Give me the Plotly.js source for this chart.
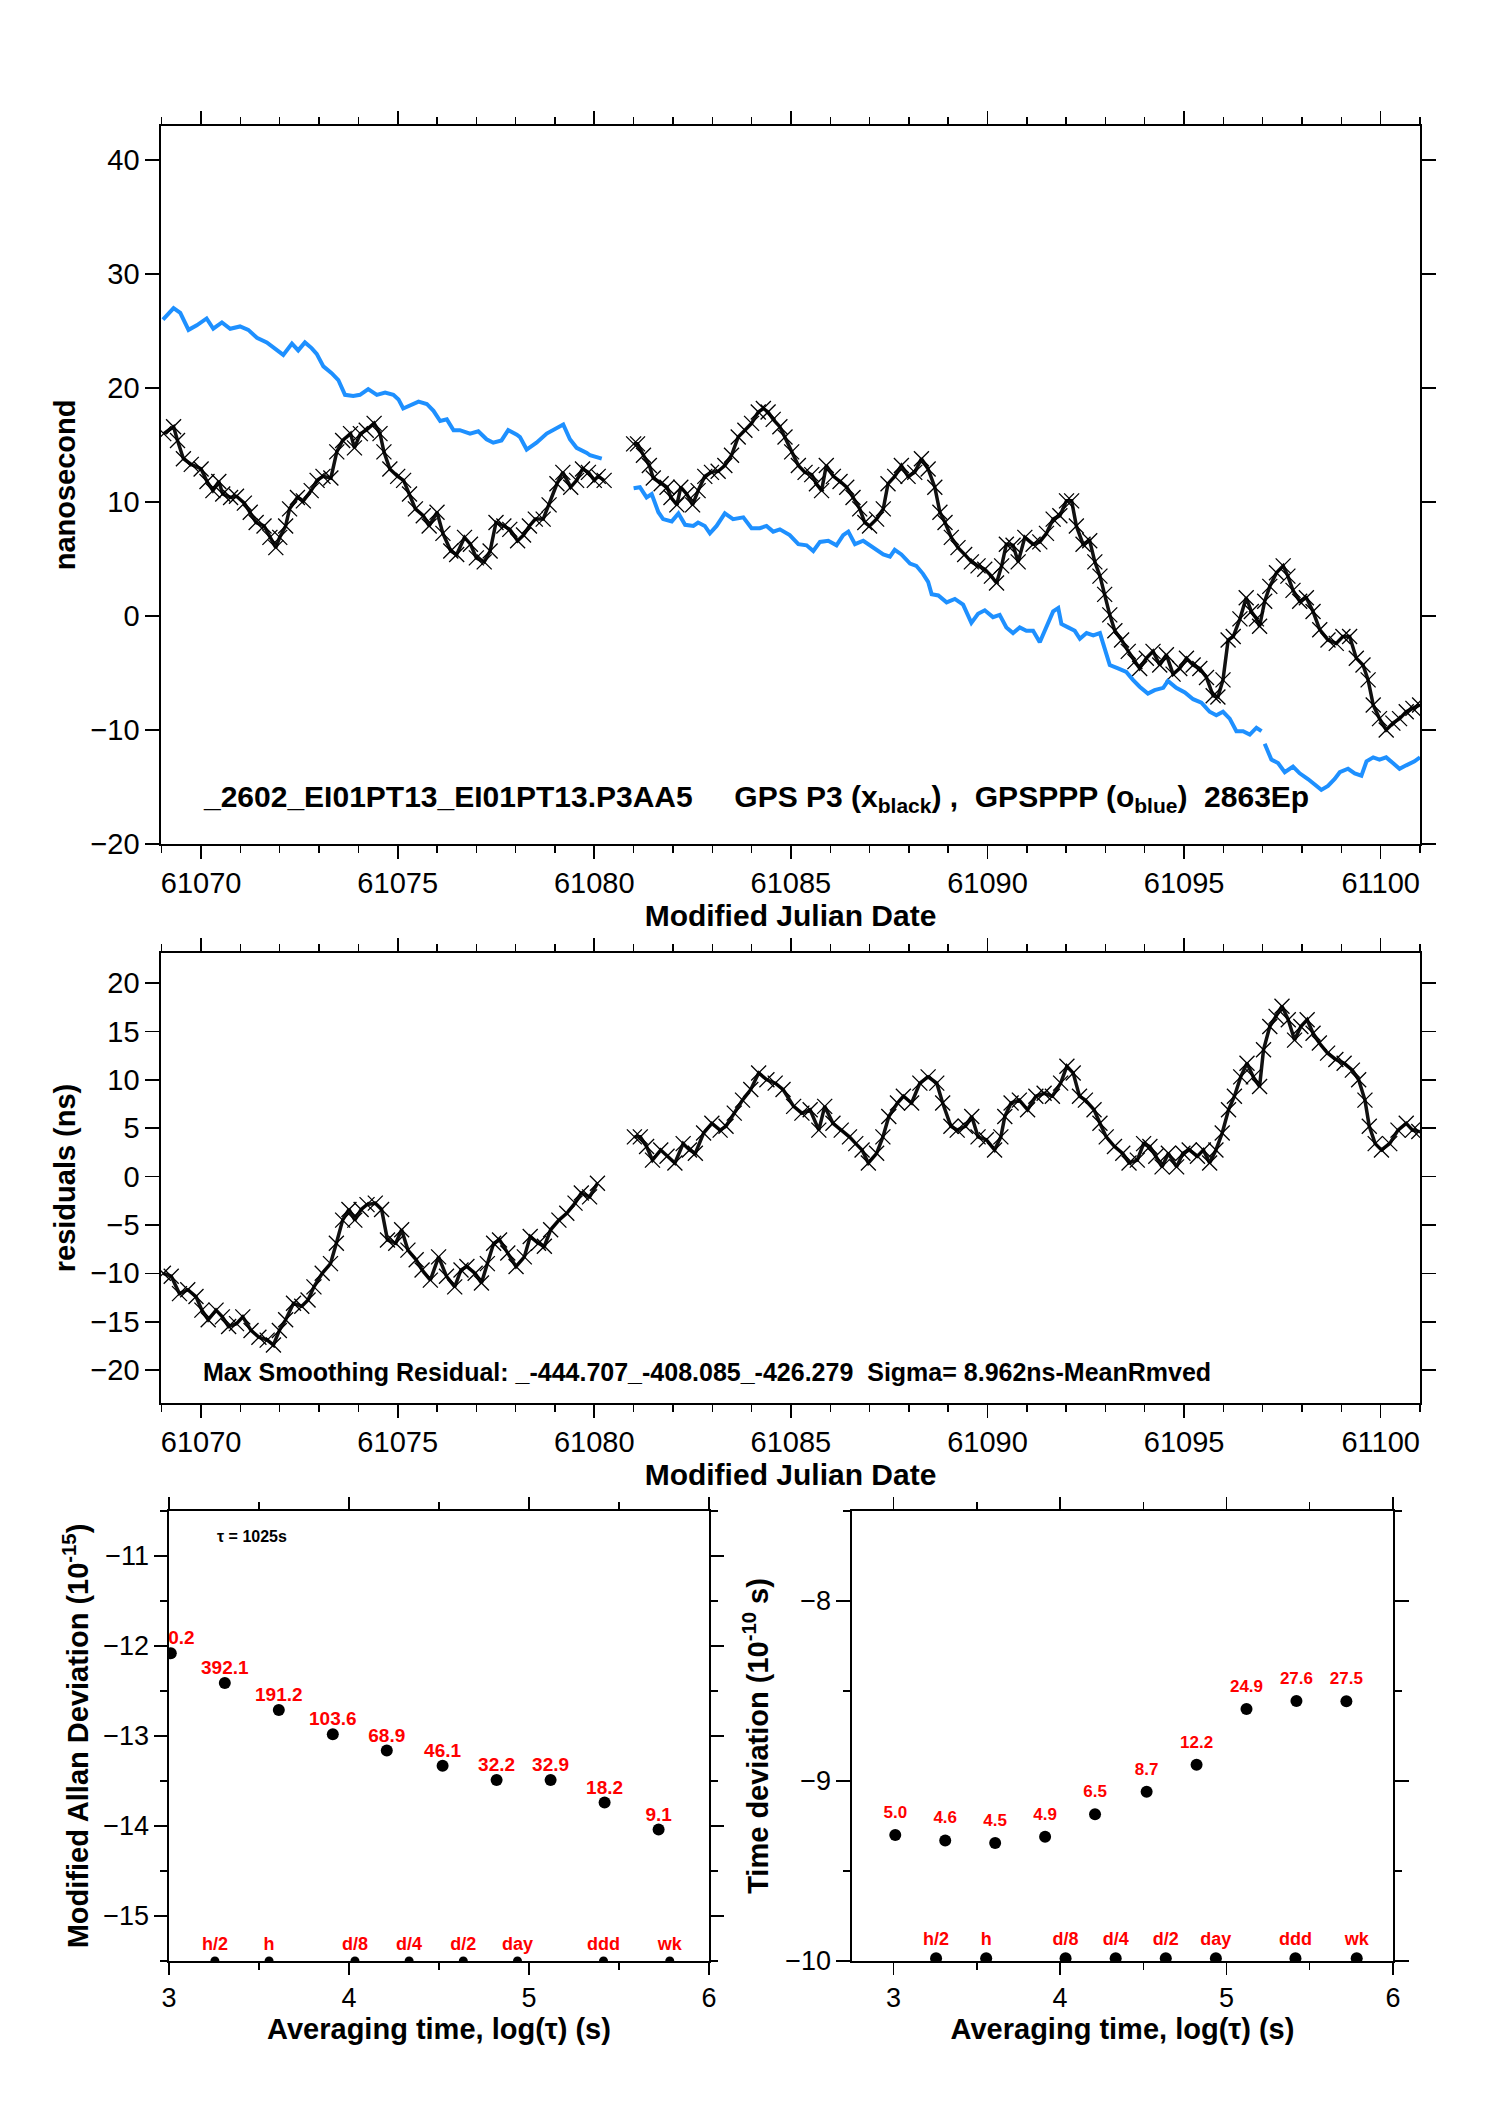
<!DOCTYPE html>
<html><head><meta charset="utf-8">
<script src="https://cdn.plot.ly/plotly-3.0.1.min.js"></script>
<style>html,body{margin:0;padding:0;background:#fff}</style>
</head><body><div id="chart" style="width:1488px;height:2105px"></div>
<script>
// ---------- Top panel: GPS P3 (black x) ----------
const blackMjd = [61069.05,61069.3,61069.4,61069.55,61069.75,61070.0,61070.15,61070.3,61070.45,61070.55,61070.75,61070.9,61071.1,61071.25,61071.4,61071.6,61071.75,61071.9,61072.0,61072.15,61072.25,61072.45,61072.6,61072.8,61072.95,61073.1,61073.3,61073.45,61073.6,61073.8,61073.9,61074.05,61074.2,61074.4,61074.55,61074.65,61074.8,61075.0,61075.15,61075.3,61075.45,61075.65,61075.8,61076.0,61076.15,61076.35,61076.5,61076.7,61076.85,61077.0,61077.2,61077.35,61077.5,61077.7,61077.85,61078.05,61078.2,61078.35,61078.5,61078.7,61078.85,61079.05,61079.2,61079.4,61079.55,61079.7,61079.85,61080.0,61080.1,61080.25,null,
61081.0,61081.1,61081.25,61081.4,61081.5,61081.7,61081.85,61081.95,61082.1,61082.2,61082.35,61082.5,61082.64,61082.81,61082.98,61083.15,61083.32,61083.49,61083.66,61083.83,61084.0,61084.17,61084.3,61084.42,61084.55,61084.72,61084.85,61085.02,61085.19,61085.36,61085.53,61085.65,61085.78,61085.9,61086.08,61086.25,61086.42,61086.58,61086.75,61086.88,61087.0,61087.18,61087.35,61087.47,61087.64,61087.81,61087.98,61088.15,61088.32,61088.49,61088.66,61088.79,61088.92,61089.08,61089.25,61089.42,61089.59,61089.76,61089.93,61090.1,61090.23,61090.36,61090.48,61090.65,61090.78,61090.95,61091.16,61091.33,61091.5,61091.67,61091.84,61092.01,61092.14,61092.26,61092.43,61092.6,61092.73,61092.86,61092.98,61093.11,61093.24,61093.41,61093.58,61093.75,61093.87,61094.04,61094.21,61094.38,61094.55,61094.72,61094.89,61095.06,61095.23,61095.4,61095.57,61095.74,61095.86,61095.99,61096.12,61096.25,61096.42,61096.58,61096.71,61096.84,61096.92,61097.05,61097.18,61097.35,61097.52,61097.64,61097.77,61097.94,61098.11,61098.28,61098.45,61098.66,61098.87,61099.04,61099.21,61099.38,61099.55,61099.68,61099.81,61099.97,61100.14,61100.31,61100.48,61100.65,61100.82,61100.99];
const blackNs = [16.0,16.6,15.4,13.8,13.3,12.9,11.8,11.0,11.8,10.7,10.4,10.5,9.9,9.1,8.2,7.9,6.9,6.0,6.9,7.9,9.4,10.4,10.1,11.0,11.9,12.25,12.1,14.4,15.4,16.0,14.75,16.0,16.3,16.9,16.0,14.4,12.9,12.25,11.9,10.7,9.4,8.8,7.9,9.1,7.25,5.7,5.4,6.9,6.3,5.1,4.75,5.7,8.2,7.9,7.6,6.6,7.1,7.9,8.5,8.5,9.75,11.6,12.6,11.3,11.9,12.9,12.6,11.9,12.25,11.9,null,
15.1,15.1,14.1,13.2,12.1,11.6,11.3,10.4,9.75,11.3,10.7,9.75,11.0,12.25,12.6,12.7,13.2,14.1,15.7,16.3,16.9,17.9,18.2,17.9,17.25,16.6,15.7,14.4,13.2,12.6,12.4,11.6,11.0,13.2,12.25,11.8,11.3,10.4,9.4,8.2,7.9,8.5,9.4,11.6,12.25,13.2,12.25,12.6,13.8,12.9,11.3,9.1,8.2,6.9,6.0,5.4,4.75,4.4,4.1,3.5,2.9,4.4,6.3,6.2,4.75,6.9,6.3,6.5,7.25,8.5,8.8,10.1,10.1,7.9,6.3,6.6,4.75,3.5,1.9,0.1,-1.3,-2.1,-3.1,-4.0,-4.6,-3.7,-3.1,-4.3,-3.4,-5.1,-4.6,-3.7,-4.3,-4.6,-5.4,-7.0,-7.1,-5.6,-2.1,-1.8,-0.25,1.6,0.4,-0.25,-0.9,1.3,2.6,3.8,4.4,3.5,2.25,1.3,1.6,0.4,-1.2,-2.1,-2.4,-1.8,-1.8,-3.7,-4.3,-5.6,-7.8,-9.0,-10.0,-9.4,-9.0,-8.4,-8.1,-7.8];

// ---------- Top panel: GPSPPP (blue) ----------
const blueMjd = [61069.03,61069.3,61069.47,61069.68,61069.89,61070.14,61070.31,61070.53,61070.74,61070.99,61071.2,61071.42,61071.67,61071.92,61072.09,61072.31,61072.47,61072.64,61072.81,61072.94,61073.11,61073.32,61073.49,61073.66,61073.87,61074.04,61074.25,61074.47,61074.68,61074.89,61075.02,61075.14,61075.31,61075.53,61075.74,61075.91,61076.08,61076.25,61076.42,61076.58,61076.84,61077.05,61077.26,61077.43,61077.64,61077.81,61078.03,61078.11,61078.28,61078.53,61078.79,61079.04,61079.21,61079.38,61079.55,61079.81,61079.89,61080.19,null,
61081.0,61081.16,61081.33,61081.46,61081.63,61081.75,61081.97,61082.14,61082.31,61082.52,61082.64,61082.81,61082.94,61083.11,61083.32,61083.53,61083.79,61084.0,61084.21,61084.38,61084.55,61084.72,61084.97,61085.19,61085.4,61085.57,61085.74,61085.95,61086.16,61086.33,61086.46,61086.63,61086.84,61087.01,61087.18,61087.35,61087.52,61087.64,61087.81,61088.03,61088.19,61088.36,61088.49,61088.58,61088.75,61088.96,61089.17,61089.38,61089.59,61089.76,61089.93,61090.14,61090.31,61090.48,61090.65,61090.82,61090.99,61091.16,61091.33,61091.5,61091.67,61091.8,61091.88,61092.05,61092.22,61092.35,61092.52,61092.69,61092.86,61092.94,61093.11,61093.32,61093.53,61093.7,61093.87,61094.08,61094.25,61094.47,61094.59,61094.8,61095.02,61095.23,61095.44,61095.65,61095.82,61095.99,61096.16,61096.33,61096.5,61096.67,61096.84,61096.97,null,
61097.05,61097.22,61097.39,61097.56,61097.77,61097.94,61098.15,61098.32,61098.49,61098.66,61098.83,61098.96,61099.17,61099.34,61099.51,61099.64,61099.81,61099.97,61100.14,61100.31,61100.48,61100.65,61100.86,61101.0];
const blueNs = [26.0,27.0,26.6,25.1,25.5,26.1,25.2,25.75,25.2,25.4,25.1,24.4,24.0,23.3,22.9,23.9,23.3,24.0,23.5,23.0,21.9,21.3,20.7,19.4,19.3,19.4,19.9,19.4,19.6,19.4,19.0,18.2,18.5,18.8,18.6,18.0,17.1,17.25,16.3,16.3,16.0,16.2,15.5,15.2,15.4,16.3,15.9,15.7,14.6,15.2,16.0,16.5,16.8,15.5,14.75,14.3,14.1,13.8,null,
11.2,11.3,10.4,10.7,9.1,8.5,8.3,9.0,8.0,7.9,8.2,7.9,7.25,7.9,9.0,8.5,8.65,7.7,7.7,7.9,7.4,7.6,7.1,6.3,6.2,5.7,6.5,6.6,6.2,7.1,7.4,6.3,6.6,6.2,5.8,5.4,5.2,5.8,5.4,4.6,4.4,3.7,3.0,1.9,1.8,1.2,1.5,1.0,-0.6,0.2,0.5,-0.1,0.1,-1.0,-1.5,-1.0,-1.3,-1.3,-2.3,-1.0,0.4,0.7,-0.7,-1.0,-1.3,-2.0,-1.5,-1.7,-1.5,-2.4,-4.3,-4.6,-4.9,-5.6,-6.2,-6.8,-6.5,-6.3,-5.7,-6.3,-6.7,-7.3,-7.6,-8.4,-8.7,-8.4,-9.0,-10.1,-10.1,-10.4,-9.8,-10.1,null,
-11.2,-12.6,-12.9,-13.7,-13.2,-13.8,-14.3,-14.8,-15.25,-14.9,-14.3,-13.7,-13.4,-13.8,-14.0,-12.75,-12.4,-12.6,-12.4,-12.9,-13.4,-13.1,-12.75,-12.4];

// ---------- Middle panel: residuals ----------
const residMjd = [61069.04,61069.24,61069.45,61069.66,61069.87,61070.02,61070.18,61070.38,61070.54,61070.7,61070.9,61071.06,61071.27,61071.47,61071.68,61071.84,61071.99,61072.15,61072.35,61072.56,61072.72,61072.87,61073.08,61073.29,61073.44,61073.6,61073.76,61073.91,61074.07,61074.22,61074.43,61074.59,61074.74,61074.95,61075.1,61075.26,61075.47,61075.62,61075.83,61076.04,61076.24,61076.45,61076.61,61076.76,61076.97,61077.13,61077.28,61077.44,61077.59,61077.8,61078.01,61078.22,61078.37,61078.58,61078.73,61078.89,61079.1,61079.3,61079.51,61079.67,61079.88,61080.08,null,
61081.02,61081.17,61081.33,61081.48,61081.69,61081.85,61082.05,61082.26,61082.42,61082.57,61082.78,61082.99,61083.2,61083.35,61083.56,61083.77,61083.98,61084.18,61084.39,61084.6,61084.8,61085.07,61085.28,61085.49,61085.71,61085.86,61086.07,61086.28,61086.49,61086.65,61086.81,61086.97,61087.18,61087.34,61087.49,61087.71,61087.86,61088.07,61088.28,61088.49,61088.71,61088.86,61089.07,61089.23,61089.44,61089.6,61089.76,61089.97,61090.18,61090.34,61090.44,61090.6,61090.81,61091.02,61091.23,61091.44,61091.65,61091.86,61092.02,61092.18,61092.34,61092.49,61092.71,61092.86,61093.02,61093.23,61093.44,61093.6,61093.81,61093.97,61094.13,61094.28,61094.44,61094.6,61094.81,61094.97,61095.13,61095.34,61095.49,61095.65,61095.81,61095.97,61096.13,61096.28,61096.44,61096.6,61096.76,61096.92,61097.02,61097.18,61097.34,61097.49,61097.65,61097.81,61097.97,61098.13,61098.28,61098.44,61098.65,61098.86,61099.07,61099.28,61099.44,61099.6,61099.71,61099.86,61100.02,61100.23,61100.44,61100.65,61100.81,61100.97];
const residNs = [-10.0,-10.3,-12.1,-11.7,-12.4,-13.8,-14.8,-13.8,-14.5,-15.5,-15.2,-14.5,-15.9,-16.6,-16.9,-17.4,-15.9,-14.8,-13.1,-13.4,-12.75,-11.4,-10.0,-9.0,-6.9,-4.5,-3.4,-4.5,-3.4,-2.9,-2.75,-3.4,-6.55,-6.9,-5.5,-7.6,-8.6,-9.65,-10.7,-8.3,-10.3,-11.4,-9.65,-9.3,-10.0,-11.0,-9.0,-6.9,-6.55,-7.9,-9.3,-8.3,-6.2,-6.9,-7.2,-5.5,-4.5,-3.8,-2.75,-1.7,-2.1,-0.7,null,
4.1,4.1,3.1,1.7,2.75,2.1,1.4,3.4,2.75,2.4,4.5,5.5,4.8,5.2,6.55,7.9,9.0,10.7,10.0,9.65,9.0,7.25,6.55,6.9,4.8,7.25,5.5,4.8,4.1,3.4,2.75,1.4,2.4,4.1,6.2,7.6,8.3,7.6,9.65,10.3,9.65,7.6,5.2,4.8,5.2,6.2,4.1,3.8,2.75,4.1,6.2,7.6,7.9,6.9,8.3,8.6,8.3,9.65,11.4,10.7,8.3,7.9,6.9,5.5,4.1,3.1,2.4,1.4,1.7,3.4,3.1,2.1,1.0,2.4,1.0,2.4,2.75,2.1,2.75,1.4,2.75,4.5,6.9,8.3,10.3,11.7,10.3,9.3,13.1,15.5,16.55,17.6,16.2,14.1,15.5,16.2,14.8,13.8,12.75,12.1,11.7,11.0,10.0,7.9,5.2,3.4,2.75,3.4,4.8,5.5,4.8,4.65];

// ---------- Bottom panels: stability ----------
const tauLog = [3.01,3.31,3.61,3.91,4.21,4.52,4.82,5.12,5.42,5.72];
const adevLog = [-12.08,-12.41,-12.71,-12.98,-13.16,-13.33,-13.49,-13.49,-13.74,-14.04];
const adevLabels = ['780.2','392.1','191.2','103.6','68.9','46.1','32.2','32.9','18.2','9.1'];
const tdevLog = [-9.30,-9.33,-9.345,-9.31,-9.185,-9.06,-8.91,-8.60,-8.555,-8.557];
const tdevLabels = ['5.0','4.6','4.5','4.9','6.5','8.7','12.2','24.9','27.6','27.5'];
const eventTauLog = [3.255,3.556,4.033,4.334,4.635,4.936,5.414,5.782];
const eventLabels = ['h/2','h','d/8','d/4','d/2','day','ddd','wk'];
const eventAdevY = [-15.5,-15.5,-15.5,-15.5,-15.5,-15.5,-15.5,-15.5];
const eventTdevY = [-9.985,-9.985,-9.985,-9.985,-9.985,-9.985,-9.985,-9.985];

const FONT = 'Liberation Sans, Arial, Helvetica, sans-serif';
const NB = '\u00A0';

function ax(extra) {
  return Object.assign({
    showline: true, linecolor: 'black', linewidth: 1.6, mirror: 'ticks',
    ticks: 'outside', tickcolor: 'black', tickwidth: 1.6,
    showgrid: false, zeroline: false,
    tickfont: {family: FONT, size: 29, color: 'black'}
  }, extra);
}
function minor(dt, t0, len) {
  return {dtick: dt, tick0: t0, ticklen: len, ticks: 'outside', tickcolor: 'black', tickwidth: 1.4, showgrid: false};
}

const xMarker = {symbol: 'x-thin', size: 15, color: 'black', line: {width: 1.3, color: 'black'}};
const bandLine = {color: '#111111', width: 3.5};

const traces = [
  {x: blackMjd, y: blackNs, xaxis: 'x', yaxis: 'y', type: 'scatter', mode: 'lines+markers',
   line: bandLine, marker: xMarker, connectgaps: false, showlegend: false, hoverinfo: 'skip'},
  {x: blueMjd, y: blueNs, xaxis: 'x', yaxis: 'y', type: 'scatter', mode: 'lines',
   line: {color: '#1e90ff', width: 4}, connectgaps: false, showlegend: false, hoverinfo: 'skip'},
  {x: residMjd, y: residNs, xaxis: 'x2', yaxis: 'y2', type: 'scatter', mode: 'lines+markers',
   line: bandLine, marker: xMarker, connectgaps: false, showlegend: false, hoverinfo: 'skip'},
  // ADEV
  {x: tauLog, y: adevLog, xaxis: 'x3', yaxis: 'y3', type: 'scatter', mode: 'markers',
   marker: {color: 'black', size: 12}, showlegend: false, cliponaxis: true},
  {x: tauLog, y: adevLog, text: adevLabels, xaxis: 'x3', yaxis: 'y3', type: 'scatter', mode: 'markers+text',
   marker: {color: 'black', size: 5, opacity: 0}, textposition: 'top center',
   textfont: {family: FONT, size: 19, color: 'red', weight: 'bold'}, showlegend: false, cliponaxis: true},
  {x: eventTauLog, y: eventAdevY, text: eventLabels, xaxis: 'x3', yaxis: 'y3', type: 'scatter', mode: 'markers+text',
   marker: {color: 'black', size: 9}, textposition: 'top center',
   textfont: {family: FONT, size: 18, color: 'red', weight: 'bold'}, showlegend: false, cliponaxis: true},
  // TDEV
  {x: tauLog, y: tdevLog, xaxis: 'x4', yaxis: 'y4', type: 'scatter', mode: 'markers',
   marker: {color: 'black', size: 12}, showlegend: false, cliponaxis: true},
  {x: tauLog, y: tdevLog, text: tdevLabels, xaxis: 'x4', yaxis: 'y4', type: 'scatter', mode: 'markers+text',
   marker: {color: 'black', size: 19, opacity: 0}, textposition: 'top center',
   textfont: {family: FONT, size: 17, color: 'red', weight: 'bold'}, showlegend: false, cliponaxis: true},
  {x: eventTauLog, y: eventTdevY, text: eventLabels, xaxis: 'x4', yaxis: 'y4', type: 'scatter', mode: 'markers+text',
   marker: {color: 'black', size: 12}, textposition: 'top center',
   textfont: {family: FONT, size: 18, color: 'red', weight: 'bold'}, showlegend: false, cliponaxis: true}
];

const W = 1488, H = 2105;
const dx = (a, b) => [a / W, b / W];
const dy = (top, bot) => [1 - bot / H, 1 - top / H];

const layout = {
  width: W, height: H,
  margin: {l: 0, r: 0, t: 0, b: 0},
  paper_bgcolor: 'white', plot_bgcolor: 'white',
  font: {family: FONT, color: 'black'},
  showlegend: false,
  xaxis: ax({domain: dx(161, 1420), range: [61068.98, 61101.0], anchor: 'y',
    tick0: 61070, dtick: 5, ticklen: 13, tickformat: 'd', minor: minor(1, 61070, 7),
    title: {text: '<b>Modified Julian Date</b>', font: {family: FONT, size: 30}, standoff: 4}}),
  yaxis: ax({domain: dy(125.8, 844), range: [-20, 43], anchor: 'x', tick0: 0, dtick: 10, ticklen: 14,
    title: {text: '<b>nanosecond</b>', font: {family: FONT, size: 29}, standoff: 6}}),
  xaxis2: ax({domain: dx(161, 1420), range: [61068.98, 61101.0], anchor: 'y2',
    tick0: 61070, dtick: 5, ticklen: 13, tickformat: 'd', minor: minor(1, 61070, 7),
    title: {text: '<b>Modified Julian Date</b>', font: {family: FONT, size: 30}, standoff: 4}}),
  yaxis2: ax({domain: dy(953, 1403), range: [-23.4, 23.1], anchor: 'x2', tick0: 0, dtick: 5, ticklen: 14,
    title: {text: '<b>residuals (ns)</b>', font: {family: FONT, size: 29}, standoff: 6}}),
  xaxis3: ax({domain: dx(169, 709), range: [3, 6], anchor: 'y3', tick0: 0, dtick: 1, ticklen: 12,
    tickfont: {family: FONT, size: 27, color: 'black'}, minor: minor(0.5, 0, 7),
    title: {text: '<b>Averaging time, log(\u03c4) (s)</b>', font: {family: FONT, size: 29}, standoff: 4}}),
  yaxis3: ax({domain: dy(1511, 1961), range: [-15.5, -10.5], anchor: 'x3', tick0: 0, dtick: 1, ticklen: 13,
    tickfont: {family: FONT, size: 27, color: 'black'}, minor: minor(0.5, 0, 7),
    title: {text: '<b>Modified Allan Deviation (10<sup>-15</sup>)</b>', font: {family: FONT, size: 29}, standoff: 6}}),
  xaxis4: ax({domain: dx(852, 1393), range: [2.75, 6.0], anchor: 'y4', tick0: 0, dtick: 1, ticklen: 12,
    tickfont: {family: FONT, size: 27, color: 'black'}, minor: minor(0.5, 0, 7),
    title: {text: '<b>Averaging time, log(\u03c4) (s)</b>', font: {family: FONT, size: 29}, standoff: 4}}),
  yaxis4: ax({domain: dy(1511, 1961), range: [-10, -7.5], anchor: 'x4', tick0: 0, dtick: 1, ticklen: 14,
    tickfont: {family: FONT, size: 27, color: 'black'}, minor: minor(0.5, 0, 7),
    title: {text: '<b>Time deviation (10<sup>-10</sup> s)</b>', font: {family: FONT, size: 29}, standoff: 8}}),
  annotations: [
    {xref: 'x', yref: 'y', x: 61070, y: -16.0, xanchor: 'left', yanchor: 'middle', showarrow: false,
     text: '<b>_2602_EI01PT13_EI01PT13.P3AA5' + NB.repeat(5) + 'GPS P3 (x<sub>black</sub>) ,' + NB + NB + 'GPSPPP (o<sub>blue</sub>)' + NB + NB + '2863Ep</b>',
     font: {family: FONT, size: 30, color: 'black'}},
    {xref: 'x2', yref: 'y2', x: 61070, y: -20.2, xanchor: 'left', yanchor: 'middle', showarrow: false,
     text: '<b>Max Smoothing Residual: _-444.707_-408.085_-426.279' + NB + NB + 'Sigma= 8.962ns-MeanRmved</b>',
     font: {family: FONT, size: 25, color: 'black'}},
    {xref: 'x3', yref: 'y3', x: 3.46, y: -10.78, xanchor: 'center', yanchor: 'middle', showarrow: false,
     text: '<b>\u03c4 = 1025s</b>', font: {family: FONT, size: 16, color: 'black'}}
  ]
};

Plotly.newPlot('chart', traces, layout, {displayModeBar: false, staticPlot: true});
</script></body></html>
